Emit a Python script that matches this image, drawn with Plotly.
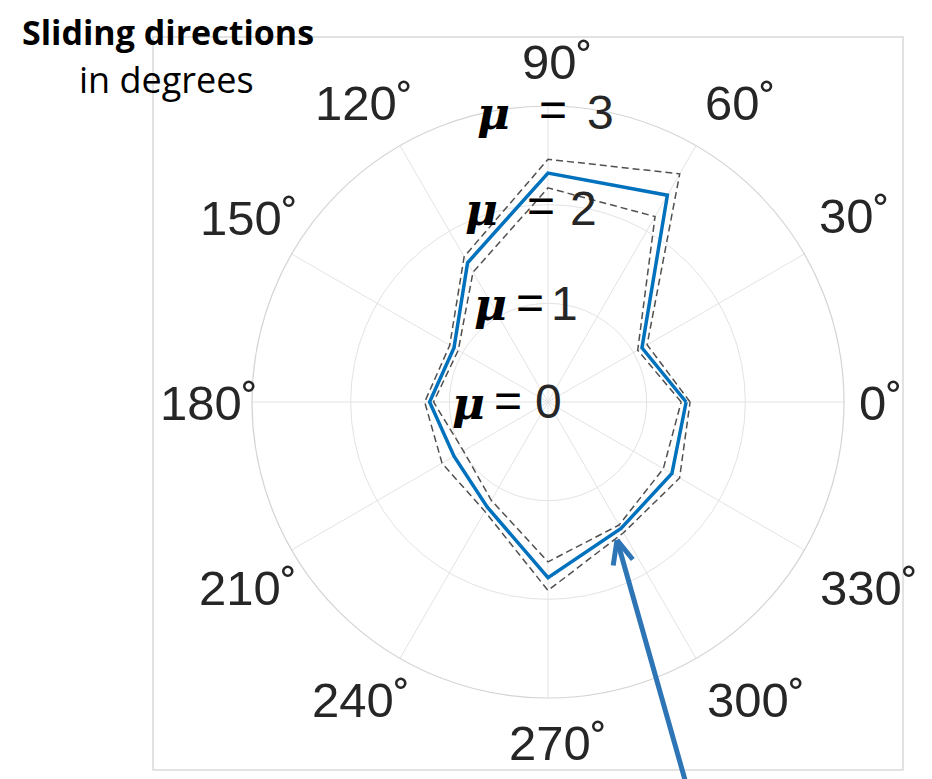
import plotly.graph_objects as go

W, H = 932, 779
OFF = 8  # page body margin offset compensation

# ---- data ----
angles = [0, 30, 60, 90, 120, 150, 180, 210, 240, 270, 300, 330]
mean_r = [1.40, 1.10, 2.42, 2.32, 1.63, 1.10, 1.20, 1.10, 1.23, 1.78, 1.48, 1.45]
upper_r = [1.44, 1.16, 2.67, 2.46, 1.70, 1.15, 1.25, 1.24, 1.28, 1.91, 1.53, 1.54]
lower_r = [1.35, 1.05, 2.17, 2.17, 1.52, 1.05, 1.16, 0.99, 1.15, 1.62, 1.44, 1.35]
tick_labels = [f"{a}˚" for a in angles]
mu_values = [0, 1, 2, 3]


def closed(v):
    return list(v) + [v[0]]


def px(x):
    return (x - OFF) / W


def py(y):
    return 1 - (y - OFF) / H


fig = go.Figure()
for r in (upper_r, lower_r):
    fig.add_trace(go.Scatterpolar(
        r=closed(r), theta=closed(angles), mode="lines",
        line=dict(color="#505050", width=1.5, dash="7px,4px"),
        showlegend=False, hoverinfo="skip"))
fig.add_trace(go.Scatterpolar(
    r=closed(mean_r), theta=closed(angles), mode="lines",
    line=dict(color="#0072BD", width=3.5),
    showlegend=False))

cx, cy, R = 548, 402, 296
fig.update_layout(
    width=W, height=H,
    margin=dict(l=0, r=0, t=0, b=0),
    paper_bgcolor="white",
    font=dict(family="Liberation Sans, Arial, sans-serif", color="#262626"),
    polar=dict(
        domain=dict(x=[px(cx - R), px(cx + R)], y=[py(cy + R), py(cy - R)]),
        bgcolor="white",
        radialaxis=dict(range=[0, 3], tickvals=[1, 2, 3], showticklabels=False,
                        ticks="", showline=False, gridcolor="#e3e3e3", gridwidth=1),
        angularaxis=dict(tickvals=angles, ticktext=tick_labels, direction="counterclockwise",
                         rotation=0, ticks="", showline=True, linecolor="#d4d4d4",
                         linewidth=1.2, gridcolor="#e3e3e3", gridwidth=1,
                         showticklabels=False),
    ),
)

# frame box
fig.add_shape(type="rect", xref="paper", yref="paper",
              x0=px(153), x1=px(903), y0=py(770), y1=py(37),
              line=dict(color="#d9d9d9", width=1.5), layer="below")

ann = []
# angular tick labels: left edge of digits, vertical centre of digits
label_pos = {0: (857, 403), 30: (817, 216), 60: (703, 103), 90: (520, 62),
             120: (313, 103), 150: (198, 218), 180: (158, 403), 210: (197, 588),
             240: (310, 700), 270: (507, 743), 300: (705, 700), 330: (818, 588)}
for a, t in zip(angles, tick_labels):
    lx, ly = label_pos[a]
    ann.append(dict(x=px(lx), y=py(ly), text=t, showarrow=False,
                    font=dict(size=49, color="#262626"), xanchor="left", yanchor="middle"))

# mu labels: (y, mu_x, eq_x, digit_x)
mu_pos = {0: (402, 468, 508, 548), 1: (304, 490, 530, 564),
          2: (208, 481, 541, 583), 3: (112, 493, 553, 600)}
for m in mu_values:
    y, mx, ex, dx = mu_pos[m]
    ann.append(dict(x=px(mx), y=py(y + 1), text="<b><i>μ</i></b>", showarrow=False,
                    font=dict(family="DejaVu Serif, serif", size=45, color="black"),
                    xanchor="center", yanchor="middle"))
    ann.append(dict(x=px(ex), y=py(y - 2), text="=", showarrow=False,
                    font=dict(size=48, color="black"), xanchor="center", yanchor="middle"))
    ann.append(dict(x=px(dx), y=py(y), text=str(m), showarrow=False,
                    font=dict(size=48, color="#262626"), xanchor="center", yanchor="middle"))

# titles
ann.append(dict(x=px(168), y=py(32), text="<b>Sliding directions</b>", showarrow=False,
                font=dict(family="Open Sans, sans-serif", size=34, color="black"),
                xanchor="center", yanchor="middle"))
ann.append(dict(x=px(166), y=py(79), text="in degrees", showarrow=False,
                font=dict(family="Open Sans, sans-serif", size=36, color="black"),
                xanchor="center", yanchor="middle"))

# arrow: shaft plus two open-head arms meeting at the tip
tip = (px(617), py(540))
arrow_style = dict(xref="paper", yref="paper", text="", showarrow=True,
                   arrowcolor="#2E75B6", arrowwidth=5, arrowhead=0, standoff=0)
for dx_, dy_ in [(70, 250), (17, 21), (-4, 27)]:
    ann.append(dict(x=tip[0], y=tip[1], ax=dx_, ay=dy_, **arrow_style))

fig.update_layout(annotations=ann)
fig.write_html("out.html")
